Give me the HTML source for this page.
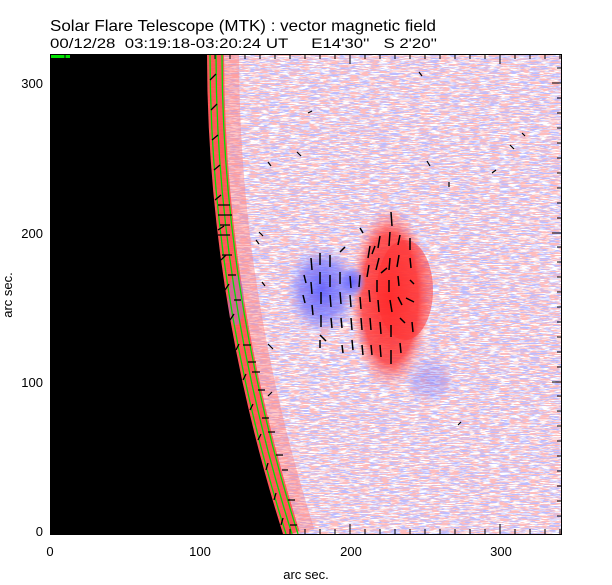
<!DOCTYPE html>
<html><head><meta charset="utf-8"><style>
html,body{margin:0;padding:0;background:#fff;}
svg{display:block;font-family:"Liberation Sans",sans-serif;}
</style></head><body>
<svg width="612" height="585" viewBox="0 0 612 585" xmlns="http://www.w3.org/2000/svg">
<defs>
<filter id="fb" x="0" y="0" width="100%" height="100%">
<feTurbulence type="fractalNoise" baseFrequency="0.1 0.9" numOctaves="2" seed="3"/>
<feColorMatrix values="0 0 0 0 0.5  0 0 0 0 0.5  0 0 0 0 1  9 0 0 0 -4.0"/>
</filter>
<filter id="fr" x="0" y="0" width="100%" height="100%">
<feTurbulence type="fractalNoise" baseFrequency="0.1 0.9" numOctaves="2" seed="11"/>
<feColorMatrix values="0 0 0 0 1  0 0 0 0 0.5  0 0 0 0 0.5  9 0 0 0 -4.3"/>
</filter>
<radialGradient id="rg" cx="0.5" cy="0.5" r="0.5">
<stop offset="0" stop-color="#ff2020" stop-opacity="0.95"/>
<stop offset="0.7" stop-color="#ff4040" stop-opacity="0.85"/>
<stop offset="1" stop-color="#ff8080" stop-opacity="0"/>
</radialGradient>
<radialGradient id="bg" cx="0.5" cy="0.5" r="0.5">
<stop offset="0" stop-color="#5a5aff" stop-opacity="0.9"/>
<stop offset="0.6" stop-color="#7a7aff" stop-opacity="0.7"/>
<stop offset="1" stop-color="#a0a0ff" stop-opacity="0"/>
</radialGradient>
<clipPath id="cp"><rect x="50" y="54" width="512" height="480"/></clipPath>
<path id="limb" d="M207,54 Q207,294 283,534"/>
</defs>

<text x="50" y="31" font-size="16" textLength="386" lengthAdjust="spacingAndGlyphs">Solar Flare Telescope (MTK) : vector magnetic field</text>
<text x="50" y="48" font-size="14" xml:space="preserve" textLength="387" lengthAdjust="spacingAndGlyphs">00/12/28  03:19:18-03:20:24 UT     E14'30''   S 2'20''</text>

<g clip-path="url(#cp)">
<rect x="50" y="54" width="512" height="480" fill="#fff"/>
<rect x="50" y="54" width="512" height="480" fill="#fff" filter="url(#fb)"/>
<rect x="50" y="54" width="512" height="480" fill="#fff" filter="url(#fr)"/>
<!-- limb red band -->
<use href="#limb" transform="translate(16,0)" fill="none" stroke="#ff8080" stroke-width="32" opacity="0.45"/>
<use href="#limb" transform="translate(8,0)" fill="none" stroke="#ff4848" stroke-width="18" opacity="0.85"/>
<ellipse cx="236" cy="300" rx="8" ry="25" fill="#8080ff" opacity="0.35"/>
<!-- sunspot -->
<ellipse cx="390" cy="298" rx="40" ry="92" fill="url(#rg)"/>
<ellipse cx="405" cy="290" rx="28" ry="50" fill="#ff3030" opacity="0.5"/>
<ellipse cx="322" cy="290" rx="36" ry="46" fill="url(#bg)"/>
<ellipse cx="352" cy="282" rx="14" ry="16" fill="url(#bg)"/>
<ellipse cx="430" cy="380" rx="25" ry="25" fill="url(#bg)" opacity="0.4"/>
<!-- black limb -->
<path d="M50,54 L207,54 Q207,294 283,534 L50,534 Z" fill="#000"/>
<!-- green lines -->
<g fill="none" stroke="#00e000" stroke-width="1.3">
<use href="#limb" transform="translate(3,0)"/>
<use href="#limb" transform="translate(9,0)"/>
<use href="#limb" transform="translate(15,0)"/>
</g>
<rect x="50" y="55" width="20" height="3" fill="#00e000"/>
<!-- limb arrows -->
<g stroke="#000" stroke-width="1.3">
<path d="M210,80 l6,-6 M211,110 l6,-6 M212,140 l6,-5 M214,170 l6,-5 M215,200 l6,-5 M218,230 l6,-4 M221,260 l5,-5 M225,290 l4,-6 M230,320 l4,-6 M236,350 l3,-6 M243,380 l3,-6 M250,410 l3,-6 M258,440 l3,-6 M266,470 l2,-7 M274,500 l2,-7 M281,525 l2,-7"/>
<path d="M218,205 h12 M218,215 h14 M220,225 h10 M218,235 h12 M222,255 h10 M228,275 h8 M234,300 h7 M243,345 h8 M248,362 h8 M252,372 h8 M258,390 h7 M262,418 h7 M268,432 h7 M276,455 h7 M282,470 h6 M288,500 h7 M290,525 h7"/>
</g>
<!-- sunspot vectors -->
<g stroke="#000" stroke-width="1.5">
<path d="M311,258 l1,12 M311,282 l1,12 M312,305 l1,10 M304,275 l2,8 M303,295 l2,8"/>
<path d="M320,253 l0,12 M320,272 l0,12 M321,292 l0,12 M321,315 l0,12 M320,340 l0,8"/>
<path d="M330,255 l0,12 M330,275 l0,12 M330,295 l1,12 M331,318 l1,10"/>
<path d="M340,272 l0,12 M340,292 l1,12 M341,318 l1,10 M342,345 l1,8 M320,335 l6,6"/>
<path d="M350,276 l1,12 M350,295 l1,12 M351,318 l1,12 M352,340 l1,10 M340,252 l5,-5"/>
<path d="M360,275 l-1,12 M360,297 l1,12 M361,318 l1,12 M362,345 l1,10 M360,228 l3,5"/>
<path d="M370,246 l-2,12 M369,265 l-2,12 M369,290 l1,12 M370,318 l1,12 M371,345 l1,10"/>
<path d="M380,236 l-2,12 M379,258 l-3,12 M377,280 l0,12 M378,300 l1,12 M380,322 l1,12 M380,345 l1,12"/>
<path d="M391,212 l1,14 M390,232 l-1,14 M390,258 l-1,12 M389,280 l0,12 M390,300 l2,12 M391,325 l0,12 M391,350 l0,14"/>
<path d="M400,235 l-2,10 M399,255 l-2,12 M398,276 l1,10 M398,297 l4,8 M400,318 l5,5 M400,343 l1,10"/>
<path d="M410,238 l0,12 M410,258 l1,10 M410,280 l4,4 M406,298 l8,4 M412,322 l1,10"/>
<path d="M375,246 l-3,8 M387,268 l-6,5"/>
</g>
<!-- scattered arrows -->
<g stroke="#000" stroke-width="1.2">
<path d="M419,72 l3,4 M308,113 l4,-2 M297,152 l4,4 M268,162 l3,4 M427,161 l3,5 M449,182 l0,5 M492,173 l4,-3 M510,145 l4,4 M522,133 l3,3 M458,425 l3,-3 M256,240 l3,4 M259,232 l4,4 M268,344 l5,5 M268,396 l4,-4 M262,282 l3,4"/>
</g>
</g>

<!-- axes box -->
<rect x="50.5" y="54.5" width="511" height="480" fill="none" stroke="#000" stroke-width="1"/>
<g stroke="#000" stroke-width="1">
<path d="M65,534v-5M80,534v-5M95,534v-5M110,534v-5M125,534v-5M140,534v-5M155,534v-5M170,534v-5M185,534v-5M200,534v-10M215,534v-5M230,534v-5M245,534v-5M260,534v-5M275,534v-5M290,534v-5M305,534v-5M320,534v-5M335,534v-5M350,534v-10M365,534v-5M380,534v-5M395,534v-5M410,534v-5M425,534v-5M440,534v-5M455,534v-5M470,534v-5M485,534v-5M500,534v-10M515,534v-5M530,534v-5M545,534v-5M560,534v-5"/>
<path d="M65,54v5M80,54v5M95,54v5M110,54v5M125,54v5M140,54v5M155,54v5M170,54v5M185,54v5M200,54v10M215,54v5M230,54v5M245,54v5M260,54v5M275,54v5M290,54v5M305,54v5M320,54v5M335,54v5M350,54v10M365,54v5M380,54v5M395,54v5M410,54v5M425,54v5M440,54v5M455,54v5M470,54v5M485,54v5M500,54v10M515,54v5M530,54v5M545,54v5M560,54v5"/>
<path d="M562,516h-5M562,501h-5M562,486h-5M562,471h-5M562,456h-5M562,441h-5M562,426h-5M562,411h-5M562,396h-5M562,382h-10M562,367h-5M562,352h-5M562,337h-5M562,322h-5M562,307h-5M562,292h-5M562,277h-5M562,262h-5M562,247h-5M562,233h-10M562,218h-5M562,203h-5M562,188h-5M562,173h-5M562,158h-5M562,143h-5M562,128h-5M562,113h-5M562,98h-5M562,83h-10M562,68h-5"/>
</g>
<g font-size="13" fill="#000">
<text x="50" y="556" text-anchor="middle">0</text>
<text x="200" y="556" text-anchor="middle">100</text>
<text x="351" y="556" text-anchor="middle">200</text>
<text x="501" y="556" text-anchor="middle">300</text>
<text x="306" y="579" text-anchor="middle">arc sec.</text>
<text x="43" y="536" text-anchor="end">0</text>
<text x="43" y="387" text-anchor="end">100</text>
<text x="43" y="238" text-anchor="end">200</text>
<text x="43" y="88" text-anchor="end">300</text>
<text x="12" y="295" text-anchor="middle" transform="rotate(-90 12 295)">arc sec.</text>
</g>
</svg>
</body></html>
